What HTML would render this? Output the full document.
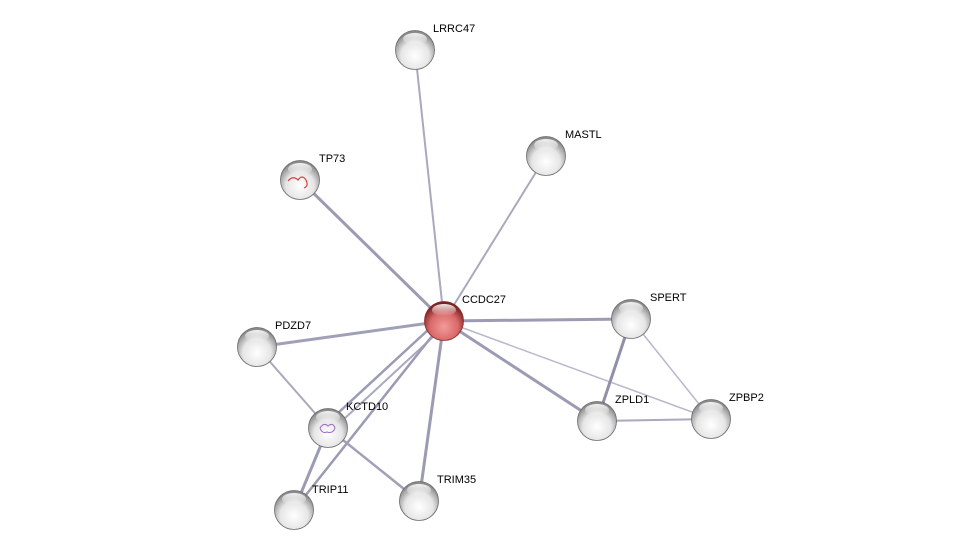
<!DOCTYPE html>
<html><head><meta charset="utf-8"><style>
html,body{margin:0;padding:0;background:#fff;}
svg{display:block;}
text{font-family:"Liberation Sans",sans-serif;font-size:11px;fill:#000;}
</style></head><body>
<svg width="975" height="556" viewBox="0 0 975 556" xmlns="http://www.w3.org/2000/svg">
<defs>
<radialGradient id="g" cx="50%" cy="65%" r="60%">
<stop offset="0" stop-color="#ffffff"/><stop offset="0.6" stop-color="#e6e6e6"/><stop offset="1" stop-color="#8a8a8a"/>
</radialGradient>
<radialGradient id="r" cx="50%" cy="65%" r="60%">
<stop offset="0" stop-color="#f49a9a"/><stop offset="0.6" stop-color="#d96a6a"/><stop offset="1" stop-color="#7a2020"/>
</radialGradient>
<linearGradient id="hl" x1="0" y1="0" x2="0" y2="1">
<stop offset="0" stop-color="#fff" stop-opacity="0.9"/><stop offset="1" stop-color="#fff" stop-opacity="0"/>
</linearGradient>
</defs>
<g stroke="#a9a9bf" fill="none">
<line x1="444" y1="321" x2="415" y2="50" stroke-width="2"/>
<line x1="444" y1="321" x2="546" y2="156" stroke-width="2"/>
<line x1="444" y1="321" x2="300" y2="180" stroke-width="3" stroke="#9b9bb3"/>
<line x1="444" y1="321" x2="631" y2="319" stroke-width="3" stroke="#9b9bb3"/>
<line x1="444" y1="321" x2="711" y2="419" stroke-width="1.5" stroke="#b8b8cc"/>
<line x1="444" y1="321" x2="597" y2="421" stroke-width="3" stroke="#9b9bb3"/>
<line x1="444" y1="321" x2="257" y2="347" stroke-width="3" stroke="#a0a0b8"/>
<line x1="441" y1="318" x2="325" y2="425" stroke-width="2.5" stroke="#9b9bb3"/>
<line x1="447" y1="324" x2="331" y2="431" stroke-width="2" stroke="#a9a9bf"/>
<line x1="444" y1="321" x2="294" y2="510" stroke-width="2.5" stroke="#9b9bb3"/>
<line x1="444" y1="321" x2="419" y2="501" stroke-width="3" stroke="#9b9bb3"/>
<line x1="257" y1="347" x2="328" y2="428" stroke-width="2"/>
<line x1="328" y1="428" x2="294" y2="510" stroke-width="3" stroke="#9b9bb3"/>
<line x1="328" y1="428" x2="419" y2="501" stroke-width="2.5" stroke="#a0a0b8"/>
<line x1="631" y1="319" x2="597" y2="421" stroke-width="3" stroke="#9090aa"/>
<line x1="631" y1="319" x2="711" y2="419" stroke-width="1.5" stroke="#b8b8cc"/>
<line x1="597" y1="421" x2="711" y2="419" stroke-width="2"/>
</g>
<g stroke="#6a6a6a" stroke-width="0.8">
<circle cx="415" cy="50" r="19.5" fill="url(#g)"/>
<circle cx="546" cy="156" r="19.5" fill="url(#g)"/>
<circle cx="300" cy="180" r="19.5" fill="url(#g)"/>
<circle cx="631" cy="319" r="19.5" fill="url(#g)"/>
<circle cx="257" cy="347" r="19.5" fill="url(#g)"/>
<circle cx="328" cy="428" r="19.5" fill="url(#g)"/>
<circle cx="597" cy="421" r="19.5" fill="url(#g)"/>
<circle cx="711" cy="419" r="19.5" fill="url(#g)"/>
<circle cx="294" cy="510" r="19.5" fill="url(#g)"/>
<circle cx="419" cy="501" r="19.5" fill="url(#g)"/>
<circle cx="444" cy="321" r="19.5" fill="url(#r)" stroke="#8a2a2a"/>
</g>
<g fill="url(#hl)">
<ellipse cx="415" cy="39" rx="12" ry="6"/><ellipse cx="546" cy="145" rx="12" ry="6"/>
<ellipse cx="300" cy="169" rx="12" ry="6"/><ellipse cx="631" cy="308" rx="12" ry="6"/>
<ellipse cx="257" cy="336" rx="12" ry="6"/><ellipse cx="328" cy="417" rx="12" ry="6"/>
<ellipse cx="597" cy="410" rx="12" ry="6"/><ellipse cx="711" cy="408" rx="12" ry="6"/>
<ellipse cx="294" cy="499" rx="12" ry="6"/><ellipse cx="419" cy="490" rx="12" ry="6"/>
<ellipse cx="444" cy="310" rx="12" ry="6"/>
</g>
<path d="M288 181 q5 -6 10 -1 q4 -6 8 0 q3 6 -2 8" stroke="#d04040" stroke-width="1.2" fill="none"/>
<path d="M320 428 q4 -6 8 -2 q5 -4 7 2 q-2 6 -8 4 q-5 2 -7 -4" stroke="#9a6ac0" stroke-width="1" fill="none"/>
<text x="433" y="32">LRRC47</text>
<text x="565" y="138">MASTL</text>
<text x="319" y="162">TP73</text>
<text x="462" y="303">CCDC27</text>
<text x="650" y="301">SPERT</text>
<text x="275" y="329">PDZD7</text>
<text x="346" y="410">KCTD10</text>
<text x="615" y="403">ZPLD1</text>
<text x="729" y="401">ZPBP2</text>
<text x="312" y="493">TRIP11</text>
<text x="437" y="483">TRIM35</text>
</svg>
</body></html>
